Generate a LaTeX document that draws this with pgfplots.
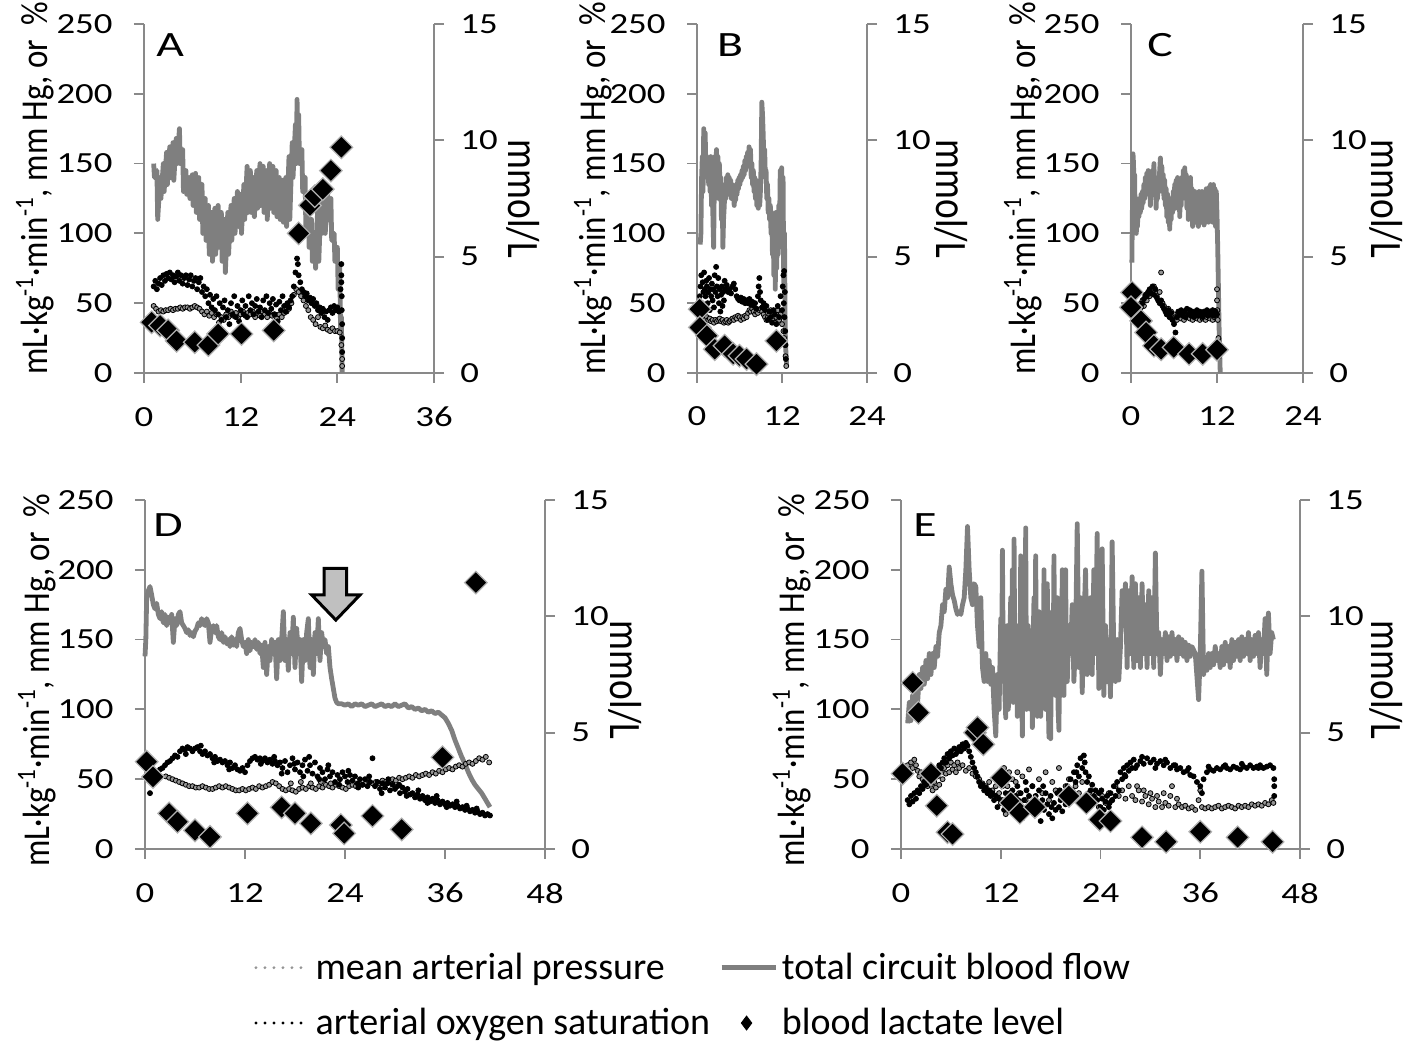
\documentclass[border=0pt]{standalone}
\usepackage{fontspec}
\setmainfont{Carlito}
\usepackage{graphicx}
\usepackage{pgfplots}
\pgfplotsset{compat=1.18}

\definecolor{axgray}{HTML}{898989}
\definecolor{flowgray}{HTML}{7F7F7F}
\definecolor{mapgray}{HTML}{959595}
\definecolor{arrowgray}{HTML}{C0C0C0}

% panels look stretched sideways, so text is widened with xscale
\newcommand{\tfs}{\fontsize{14.6}{17}\selectfont}
\newcommand{\afs}{\fontsize{17.8}{21}\selectfont}
\newcommand{\lfs}{\fontsize{16.5}{19}\selectfont}
\newcommand{\rfs}{\fontsize{18.7}{22}\selectfont}
\newcommand{\lyl}{\scalebox{1}[1.15]{mL·kg\textsuperscript{-1}·min\textsuperscript{-1}, mm Hg, or \ \%}}
\newcommand{\ryl}{\scalebox{1}[1.2]{mmol/L}}

\pgfplotsset{
  base/.style={scale only axis, anchor=south west, clip=false, xmin=0, ymin=0,
    axis line style={axgray, line width=0.9pt},
    tick style={axgray, line width=0.9pt},
    major tick length=5pt, tick align=outside,
    tick label style={font=\tfs, black, xscale=1.26},
    /pgf/number format/assume math mode=true},
  leftax/.style={base, axis x line*=bottom, axis y line*=left, ymax=250, ytick={0,50,...,250},
    xticklabel style={yshift=-8.5pt}, yticklabel style={xshift=-5pt}},
  rightax/.style={base, axis x line=none, axis y line*=right, ymax=15, ytick={0,5,10,15},
    yticklabel style={xshift=3pt}},
  flow/.style={flowgray, line width=2.4pt, line join=round, no markers},
  map/.style={only marks, mark=*, mark size=1.25pt, mark options={draw=none, fill=mapgray}},
  sao/.style={only marks, mark=*, mark size=1.25pt, mark options={draw=none, fill=black}},
  lac/.style={only marks, mark=square*, mark size=4pt,
    mark options={rotate=45, fill=black, draw=gray!60, line width=0.6pt}},
  lacleg/.style={legend image code/.code={\path[draw=none] (0pt,0pt) (27pt,0pt);
    \draw[black, fill=black] plot[only marks, mark=diamond*, mark size=3.5pt] coordinates {(12.5pt,0pt)};}},
}

\begin{document}
\begin{tikzpicture}
\useasboundingbox (0,0) rectangle (706.5pt,521pt);

% ---------------- A ----------------
\begin{axis}[leftax, at={(72pt,334.5pt)}, width=145pt, height=174.5pt, xmax=36, xtick={0,12,24,36}]
\addplot[flow] coordinates {(1.2,150)(1.3,140)(1.6,145)(1.7,110)(2.0,140)(2.1,125)(2.4,150)(2.5,130)(2.8,158)(2.9,135)(3.2,162)(3.3,140)(3.6,165)(3.7,138)(4.0,168)(4.1,150)(4.4,175)(4.5,150)(4.8,160)(4.9,130)(5.2,145)(5.3,128)(5.6,140)(5.7,125)(6.0,142)(6.1,120)(6.4,143)(6.5,115)(6.8,140)(6.9,110)(7.2,135)(7.3,100)(7.6,125)(7.7,95)(8.0,120)(8.1,85)(8.4,115)(8.5,80)(8.8,118)(8.9,85)(9.2,120)(9.3,90)(9.6,115)(9.7,80)(10.0,110)(10.1,72)(10.4,115)(10.5,85)(10.8,120)(10.9,95)(11.2,125)(11.3,100)(11.6,130)(11.7,105)(12.0,128)(12.1,100)(12.4,135)(12.5,110)(12.8,148)(12.9,115)(13.2,145)(13.3,115)(13.6,140)(13.7,112)(14.0,145)(14.1,118)(14.4,150)(14.5,120)(14.8,148)(14.9,115)(15.2,145)(15.3,110)(15.6,150)(15.7,118)(16.0,148)(16.1,115)(16.4,145)(16.5,112)(16.8,140)(16.9,110)(17.2,138)(17.3,108)(17.6,140)(17.7,105)(18.0,155)(18.1,110)(18.4,165)(18.5,140)(18.8,178)(18.9,150)(19.0,196)(19.1,160)(19.2,185)(19.3,150)(19.6,160)(19.7,130)(20.0,140)(20.1,100)(20.4,120)(20.5,90)(20.8,110)(20.9,80)(21.2,100)(21.3,75)(21.6,125)(21.7,80)(22.0,130)(22.1,100)(22.4,128)(22.5,100)(22.8,130)(22.9,110)(23.2,125)(23.3,95)(23.6,100)(23.7,80)(24.0,90)(24.1,60)(24.3,78)(24.4,30)(24.5,40)(24.6,0)};
\addplot[map] coordinates {(1.2,48)(1.5,46)(1.8,44)(2.1,45)(2.4,44)(2.7,45)(3.0,45)(3.3,46)(3.6,45)(3.9,46)(4.2,46)(4.5,47)(4.8,46)(5.1,47)(5.4,47)(5.7,46)(6.0,47)(6.3,48)(6.6,47)(6.9,46)(7.2,44)(7.5,42)(7.8,44)(8.1,41)(8.4,43)(8.7,40)(9.0,42)(9.3,36)(9.6,40)(9.9,38)(10.2,42)(10.5,40)(10.8,44)(11.1,41)(11.4,43)(11.7,40)(12.0,42)(12.3,44)(12.6,41)(12.9,43)(13.2,42)(13.5,44)(13.8,40)(14.1,43)(14.4,41)(14.7,44)(15.0,42)(15.3,40)(15.6,43)(15.9,41)(16.2,42)(16.5,39)(16.8,42)(17.1,40)(17.4,43)(17.7,44)(18.0,46)(18.3,50)(18.6,56)(18.9,60)(19.2,58)(19.5,55)(19.8,52)(20.1,48)(20.4,45)(20.7,40)(21.0,38)(21.3,35)(21.6,40)(21.9,33)(22.2,32)(22.5,34)(22.8,31)(23.1,30)(23.4,32)(23.7,30)(24.0,30)(24.3,29)(24.5,20)(24.6,10)(24.6,5)};
\addplot[sao] coordinates {(1.2,62)(1.4,66)(1.6,60)(1.8,64)(2.0,68)(2.2,63)(2.4,70)(2.6,66)(2.8,71)(3.0,68)(3.2,72)(3.4,67)(3.6,70)(3.8,65)(4.0,69)(4.2,72)(4.4,66)(4.6,70)(4.8,64)(5.0,68)(5.2,70)(5.4,63)(5.6,67)(5.8,70)(6.0,62)(6.2,66)(6.4,68)(6.6,60)(6.8,65)(7.0,68)(7.2,58)(7.4,62)(7.6,55)(7.8,60)(8.0,50)(8.2,56)(8.4,47)(8.6,53)(8.8,45)(9.0,55)(9.2,42)(9.4,50)(9.6,38)(9.8,47)(10.0,52)(10.2,40)(10.4,45)(10.6,35)(10.8,50)(11.0,42)(11.2,55)(11.4,40)(11.6,48)(11.8,37)(12.0,45)(12.2,52)(12.4,42)(12.6,48)(12.8,40)(13.0,55)(13.2,45)(13.4,50)(13.6,42)(13.8,48)(14.0,53)(14.2,44)(14.4,47)(14.6,40)(14.8,52)(15.0,45)(15.2,55)(15.4,43)(15.6,50)(15.8,46)(16.0,53)(16.2,42)(16.4,49)(16.6,37)(16.8,51)(17.0,45)(17.2,55)(17.4,48)(17.6,44)(17.8,50)(18.0,47)(18.2,52)(18.4,55)(18.6,62)(18.8,72)(19.0,82)(19.1,78)(19.2,70)(19.4,65)(19.6,60)(19.8,58)(20.0,55)(20.2,57)(20.4,52)(20.6,54)(20.8,50)(21.0,53)(21.2,48)(21.4,50)(21.6,45)(21.8,47)(22.0,43)(22.2,46)(22.4,40)(22.6,44)(22.8,38)(23.0,45)(23.2,47)(23.4,43)(23.6,48)(23.8,45)(24.0,47)(24.2,44)(24.4,60)(24.5,70)(24.5,78)(24.5,65)(24.55,55)(24.55,45)(24.6,35)(24.6,25)(24.6,15)};
\node[rotate=90, font=\lfs] at (axis description cs:-0.376,0.53) {\lyl};
\node[font=\afs, xscale=1.34] at (axis description cs:0.09,0.94) {A};
\end{axis}
\begin{axis}[rightax, at={(72pt,334.5pt)}, width=145pt, height=174.5pt, xmax=36]
\addplot[lac] coordinates {(0.95,2.18)(2.0,2.04)(3.0,1.83)(4.05,1.38)(6.3,1.32)(8.0,1.2)(9.2,1.68)(12.1,1.68)(16.1,1.83)(19.2,6.0)(20.6,7.2)(21.2,7.6)(22.2,7.9)(23.2,8.7)(24.5,9.7)};
\node[rotate=-90, font=\rfs] at (axis description cs:1.307,0.499) {\ryl};
\end{axis}

% ---------------- B ----------------
\begin{axis}[leftax, at={(348.5pt,334.5pt)}, width=85pt, height=174.5pt, xmax=24, xtick={0,12,24}]
\addplot[flow] coordinates {(0.45,92)(0.55,100)(0.65,140)(0.75,155)(0.85,130)(0.95,175)(1.05,160)(1.15,172)(1.25,148)(1.35,155)(1.45,140)(1.55,150)(1.65,135)(1.75,150)(1.85,130)(1.95,155)(2.05,120)(2.15,150)(2.25,110)(2.35,90)(2.45,140)(2.55,155)(2.65,145)(2.75,160)(2.85,140)(2.95,155)(3.05,125)(3.15,150)(3.25,135)(3.35,140)(3.45,110)(3.55,135)(3.65,90)(3.75,110)(3.85,120)(3.95,135)(4.05,125)(4.15,140)(4.25,130)(4.35,142)(4.45,128)(4.55,140)(4.65,130)(4.75,138)(4.85,125)(4.95,135)(5.05,128)(5.15,130)(5.25,120)(5.35,128)(5.45,124)(5.55,135)(5.65,128)(5.75,138)(5.85,132)(5.95,140)(6.05,135)(6.15,142)(6.25,138)(6.35,145)(6.45,140)(6.55,148)(6.65,142)(6.75,152)(6.85,145)(6.95,155)(7.05,148)(7.15,158)(7.25,150)(7.35,162)(7.45,150)(7.55,160)(7.65,140)(7.75,150)(7.85,135)(7.95,145)(8.05,130)(8.15,140)(8.25,125)(8.35,138)(8.45,120)(8.55,132)(8.65,118)(8.75,128)(8.85,120)(8.95,130)(9.05,150)(9.15,194)(9.25,185)(9.35,170)(9.45,150)(9.55,160)(9.65,140)(9.75,145)(9.85,125)(9.95,135)(10.05,115)(10.15,125)(10.25,110)(10.35,120)(10.45,100)(10.55,115)(10.65,85)(10.75,110)(10.85,70)(10.95,112)(11.05,60)(11.15,115)(11.25,75)(11.35,110)(11.45,85)(11.55,120)(11.65,100)(11.75,145)(11.85,110)(11.95,147)(12.05,90)(12.15,140)(12.25,60)(12.35,100)(12.45,30)(12.55,15)(12.65,5)};
\addplot[map] coordinates {(0.4,45)(0.6,42)(0.8,40)(1.0,41)(1.2,39)(1.4,40)(1.6,38)(1.8,39)(2.0,37)(2.2,38)(2.4,36)(2.6,38)(2.8,37)(3.0,38)(3.2,39)(3.4,37)(3.6,38)(3.8,36)(4.0,37)(4.2,38)(4.4,36)(4.6,37)(4.8,38)(5.0,39)(5.2,38)(5.4,40)(5.6,39)(5.8,41)(6.0,40)(6.2,38)(6.4,40)(6.6,39)(6.8,41)(7.0,40)(7.2,43)(7.4,45)(7.6,44)(7.8,46)(8.0,44)(8.2,42)(8.4,44)(8.6,43)(8.8,45)(9.0,46)(9.2,44)(9.4,42)(9.6,40)(9.8,38)(10.0,40)(10.2,42)(10.4,45)(10.6,38)(10.8,42)(11.0,36)(11.2,40)(11.4,45)(11.6,38)(11.8,42)(12.0,35)(12.2,30)(12.3,25)(12.4,20)(12.5,12)(12.6,5)};
\addplot[sao] coordinates {(0.4,55)(0.5,62)(0.6,70)(0.7,50)(0.8,65)(0.9,58)(1.0,72)(1.1,60)(1.2,55)(1.3,66)(1.4,62)(1.5,50)(1.6,58)(1.7,68)(1.8,45)(1.9,60)(2.0,55)(2.1,64)(2.2,52)(2.3,60)(2.4,47)(2.5,70)(2.6,58)(2.7,76)(2.8,62)(2.9,55)(3.0,68)(3.1,50)(3.2,60)(3.3,44)(3.4,56)(3.5,62)(3.6,48)(3.7,58)(3.8,52)(3.9,66)(4.0,60)(4.2,63)(4.4,58)(4.6,60)(4.8,57)(5.0,62)(5.2,64)(5.4,60)(5.6,55)(5.8,53)(6.0,52)(6.2,54)(6.4,51)(6.6,53)(6.8,50)(7.0,52)(7.2,50)(7.4,53)(7.6,49)(7.8,51)(8.0,48)(8.2,50)(8.4,46)(8.6,55)(8.7,62)(8.8,68)(8.9,58)(9.0,52)(9.2,47)(9.4,50)(9.6,45)(9.8,48)(10.0,38)(10.2,44)(10.4,40)(10.6,36)(10.8,45)(11.0,42)(11.2,35)(11.4,48)(11.6,40)(11.8,55)(12.0,45)(12.1,62)(12.2,70)(12.25,50)(12.3,73)(12.35,40)(12.4,58)(12.45,30)(12.5,20)(12.55,10)};
\node[rotate=90, font=\lfs] at (axis description cs:-0.612,0.53) {\lyl};
\node[font=\afs, xscale=1.34] at (axis description cs:0.194,0.94) {B};
\end{axis}
\begin{axis}[rightax, at={(348.5pt,334.5pt)}, width=85pt, height=174.5pt, xmax=24]
\addplot[lac] coordinates {(0.38,2.74)(0.4,1.96)(1.4,1.6)(2.5,1.02)(3.9,1.17)(5.1,0.82)(6.0,0.74)(7.0,0.6)(8.4,0.38)(11.2,1.38)};
\node[rotate=-90, font=\rfs] at (axis description cs:1.494,0.499) {\ryl};
\end{axis}

% ---------------- C ----------------
\begin{axis}[leftax, at={(565.5pt,334.5pt)}, width=86pt, height=174.5pt, xmax=24, xtick={0,12,24}]
\addplot[flow] coordinates {(0.12,79)(0.2,120)(0.28,157)(0.35,150)(0.42,130)(0.5,142)(0.58,110)(0.66,125)(0.74,100)(0.82,118)(0.9,105)(1.0,120)(1.1,112)(1.2,125)(1.3,115)(1.4,128)(1.5,118)(1.6,130)(1.7,122)(1.8,135)(1.9,125)(2.0,140)(2.1,130)(2.2,143)(2.3,135)(2.4,145)(2.5,128)(2.6,140)(2.7,120)(2.8,138)(2.9,128)(3.0,145)(3.1,135)(3.2,150)(3.3,130)(3.4,140)(3.5,118)(3.6,132)(3.7,125)(3.8,140)(3.9,130)(4.0,145)(4.1,154)(4.2,140)(4.3,148)(4.4,130)(4.5,142)(4.6,125)(4.7,138)(4.8,120)(4.9,132)(5.0,112)(5.1,128)(5.2,108)(5.3,125)(5.4,103)(5.5,120)(5.6,110)(5.7,125)(5.8,115)(5.9,130)(6.0,120)(6.1,135)(6.2,118)(6.3,138)(6.4,125)(6.5,140)(6.6,122)(6.7,138)(6.8,112)(6.9,135)(7.0,120)(7.1,140)(7.2,125)(7.3,145)(7.4,130)(7.5,147)(7.6,128)(7.7,142)(7.8,118)(7.9,138)(8.0,110)(8.1,135)(8.2,118)(8.3,140)(8.4,110)(8.5,132)(8.6,105)(8.7,128)(8.8,112)(8.9,130)(9.0,108)(9.1,128)(9.2,110)(9.3,125)(9.4,105)(9.5,130)(9.6,112)(9.7,128)(9.8,108)(9.9,130)(10.0,112)(10.1,128)(10.2,106)(10.3,130)(10.4,110)(10.5,132)(10.6,112)(10.7,130)(10.8,108)(10.9,133)(11.0,112)(11.1,135)(11.2,110)(11.3,134)(11.4,108)(11.5,135)(11.6,110)(11.7,132)(11.8,105)(11.9,130)(12.0,113)(12.1,90)(12.2,60)(12.3,30)(12.4,10)(12.45,0)};
\addplot[map] coordinates {(0.2,50)(0.4,46)(0.6,48)(0.8,44)(1.0,47)(1.2,45)(1.4,50)(1.6,52)(1.8,48)(2.0,55)(2.2,52)(2.4,58)(2.6,55)(2.8,60)(3.0,57)(3.2,62)(3.4,58)(3.6,55)(3.8,52)(4.0,58)(4.2,72)(4.4,50)(4.6,48)(4.8,45)(5.0,42)(5.2,46)(5.4,40)(5.6,44)(5.8,38)(6.0,42)(6.2,40)(6.4,38)(6.6,42)(6.8,40)(7.0,39)(7.2,42)(7.4,38)(7.6,41)(7.8,40)(8.0,43)(8.2,39)(8.4,41)(8.6,38)(8.8,42)(9.0,40)(9.2,39)(9.4,42)(9.6,38)(9.8,41)(10.0,39)(10.2,42)(10.4,38)(10.6,40)(10.8,41)(11.0,39)(11.2,42)(11.4,38)(11.6,40)(11.8,41)(12.0,60)(12.0,52)(12.05,45)(12.1,38)(12.2,25)(12.3,12)};
\addplot[sao] coordinates {(0.2,45)(0.4,48)(0.6,44)(0.8,46)(1.0,45)(1.2,48)(1.4,47)(1.6,50)(1.8,53)(2.0,56)(2.2,55)(2.4,58)(2.6,60)(2.8,57)(3.0,62)(3.2,56)(3.4,60)(3.6,54)(3.8,52)(4.0,50)(4.2,52)(4.4,48)(4.6,46)(4.8,44)(5.0,42)(5.2,45)(5.4,40)(5.6,43)(5.8,38)(6.0,35)(6.2,29)(6.4,40)(6.6,44)(6.8,42)(7.0,45)(7.2,41)(7.4,44)(7.6,40)(7.8,46)(8.0,42)(8.2,45)(8.4,41)(8.6,44)(8.8,40)(9.0,43)(9.2,45)(9.4,41)(9.6,44)(9.8,42)(10.0,40)(10.2,44)(10.4,42)(10.6,45)(10.8,41)(11.0,44)(11.2,42)(11.4,45)(11.6,41)(11.8,44)(12.0,42)};
\node[rotate=90, font=\lfs] at (axis description cs:-0.627,0.53) {\lyl};
\node[font=\afs, xscale=1.34] at (axis description cs:0.169,0.94) {C};
\end{axis}
\begin{axis}[rightax, at={(565.5pt,334.5pt)}, width=86pt, height=174.5pt, xmax=24]
\addplot[lac] coordinates {(0.14,3.46)(0.0,2.82)(1.4,2.24)(2.1,1.74)(3.2,1.17)(4.2,1.02)(5.95,1.1)(8.1,0.82)(10.0,0.82)(12.0,1.0)};
\node[rotate=-90, font=\rfs] at (axis description cs:1.482,0.499) {\ryl};
\end{axis}

% ---------------- D ----------------
\begin{axis}[leftax, at={(72.5pt,96.5pt)}, width=200pt, height=174.5pt, xmax=48, xtick={0,12,...,48}]
\addplot[flow] coordinates {(0.0,138)(0.1,150)(0.2,180)(0.4,185)(0.6,188)(0.8,182)(1.0,175)(1.2,172)(1.4,176)(1.6,168)(1.8,165)(2.0,170)(2.2,162)(2.4,168)(2.6,160)(2.8,166)(3.0,162)(3.2,168)(3.4,148)(3.6,165)(3.8,160)(4.0,168)(4.2,170)(4.4,162)(4.6,160)(4.8,158)(5.0,155)(5.2,157)(5.4,153)(5.6,155)(5.8,152)(6.0,156)(6.2,158)(6.4,162)(6.6,160)(6.8,165)(7.0,162)(7.2,160)(7.4,165)(7.6,162)(7.8,148)(8.0,158)(8.2,160)(8.4,155)(8.6,160)(8.8,152)(9.0,150)(9.2,155)(9.4,148)(9.6,152)(9.8,147)(10.0,150)(10.2,145)(10.4,152)(10.6,146)(10.8,150)(11.0,145)(11.2,155)(11.4,158)(11.6,150)(11.8,145)(12.0,148)(12.2,140)(12.4,150)(12.6,142)(12.8,148)(13.0,145)(13.2,150)(13.4,143)(13.6,148)(13.8,140)(14.0,146)(14.2,130)(14.4,148)(14.6,125)(14.8,145)(15.0,135)(15.2,150)(15.4,140)(15.6,148)(15.8,122)(16.0,150)(16.2,135)(16.4,150)(16.6,170)(16.8,135)(17.0,150)(17.2,128)(17.4,155)(17.6,140)(17.8,166)(18.0,130)(18.2,158)(18.4,140)(18.6,150)(18.8,120)(19.0,150)(19.2,135)(19.4,155)(19.6,165)(19.8,130)(20.0,150)(20.2,125)(20.4,155)(20.6,140)(20.8,165)(21.0,135)(21.2,155)(21.4,145)(21.6,150)(21.8,140)(22.0,145)(22.2,130)(22.4,122)(22.6,115)(22.8,108)(23.0,105)(23.2,104)(23.6,104)(24.0,103)(24.4,104)(24.8,102)(25.2,104)(25.6,103)(26.0,104)(26.4,102)(26.8,103)(27.2,104)(27.6,102)(28.0,103)(28.4,104)(28.8,102)(29.2,103)(29.6,102)(30.0,104)(30.4,102)(30.8,103)(31.2,104)(31.6,101)(32.0,102)(32.4,100)(32.8,101)(33.2,99)(33.6,100)(34.0,98)(34.4,99)(34.8,97)(35.2,98)(35.6,96)(36.0,94)(36.4,90)(36.8,85)(37.2,78)(37.6,72)(38.0,66)(38.4,61)(38.8,55)(39.2,50)(39.6,46)(40.0,43)(40.4,40)(40.8,36)(41.2,32)(41.4,30)};
\addplot[map] coordinates {(2.5,52)(2.9,51)(3.3,50)(3.7,49)(4.1,48)(4.5,47)(4.9,46)(5.3,45)(5.7,45)(6.1,44)(6.5,44)(6.9,45)(7.3,44)(7.7,43)(8.1,43)(8.5,44)(8.9,45)(9.3,44)(9.7,45)(10.1,44)(10.5,43)(10.9,42)(11.3,42)(11.7,43)(12.1,42)(12.5,43)(12.9,44)(13.3,43)(13.7,45)(14.1,44)(14.5,45)(14.9,46)(15.3,48)(15.7,47)(16.1,45)(16.5,43)(16.9,42)(17.3,43)(17.7,42)(18.1,41)(18.5,43)(18.9,44)(19.3,43)(19.7,45)(20.1,44)(20.5,43)(20.9,45)(21.3,44)(21.7,46)(22.1,45)(22.5,44)(22.9,46)(23.3,45)(23.7,44)(24.1,43)(24.5,45)(24.9,46)(25.3,45)(25.7,47)(26.1,46)(26.5,47)(26.9,48)(27.3,47)(27.7,48)(28.1,47)(28.5,49)(28.9,48)(29.3,49)(29.7,50)(30.1,49)(30.5,51)(30.9,50)(31.3,51)(31.7,52)(32.1,51)(32.5,53)(32.9,52)(33.3,53)(33.7,54)(34.1,53)(34.5,55)(34.9,54)(35.3,56)(35.7,55)(36.1,57)(36.5,58)(36.9,57)(37.3,59)(37.7,60)(38.1,59)(38.5,61)(38.9,62)(39.3,61)(39.7,63)(40.1,65)(40.5,64)(40.9,66)(41.3,62)(17.5,47)(18.7,48)(19.9,47)(21.1,48)(22.3,47)};
\addplot[sao] coordinates {(0.6,40)(0.9,48)(1.2,52)(1.5,55)(1.8,57)(2.1,58)(2.4,60)(2.7,62)(3.0,63)(3.3,65)(3.6,67)(3.9,66)(4.2,70)(4.5,72)(4.8,71)(5.1,73)(5.4,72)(5.7,70)(6.0,72)(6.3,73)(6.6,70)(6.9,68)(7.2,70)(7.5,67)(7.8,68)(8.1,65)(8.4,66)(8.7,63)(9.0,64)(9.3,62)(9.6,63)(9.9,60)(10.2,62)(10.5,58)(10.8,60)(11.1,57)(11.4,56)(11.7,58)(12.0,55)(12.3,60)(12.6,63)(12.9,65)(13.2,66)(13.5,64)(13.8,65)(14.1,63)(14.4,65)(14.7,62)(15.0,64)(15.3,61)(15.6,63)(15.9,60)(16.2,62)(16.5,58)(16.8,63)(17.1,55)(17.4,60)(17.7,65)(18.0,57)(18.3,62)(18.6,55)(18.9,60)(19.2,64)(19.5,56)(19.8,60)(20.1,54)(20.4,62)(20.7,52)(21.0,58)(21.3,55)(21.6,50)(21.9,57)(22.2,52)(22.5,55)(22.8,48)(23.1,53)(23.4,50)(23.7,55)(24.0,52)(24.3,48)(24.6,53)(24.9,49)(25.2,52)(25.5,47)(25.8,50)(26.1,46)(26.4,50)(26.7,45)(27.0,48)(27.3,65)(27.6,45)(27.9,48)(28.2,43)(28.5,47)(28.8,44)(29.1,47)(29.4,42)(29.7,46)(30.0,43)(30.3,45)(30.6,40)(30.9,44)(31.2,41)(31.5,43)(31.8,39)(32.1,40)(32.4,37)(32.7,39)(33.0,36)(33.3,38)(33.6,35)(33.9,37)(34.2,34)(34.5,36)(34.8,33)(35.1,35)(35.4,32)(35.7,34)(36.0,32)(36.3,33)(36.6,31)(36.9,32)(37.2,30)(37.5,31)(37.8,29)(38.1,30)(38.4,28)(38.7,29)(39.0,27)(39.3,28)(39.6,26)(39.9,27)(40.2,25)(40.5,26)(40.8,24)(41.1,25)(41.4,24)(4.9,68)(6.7,74)(8.3,62)(10.1,57)(13.9,61)(15.5,66)(16.4,54)(17.9,61)(19.0,52)(19.7,66)(20.9,50)(22.0,60)(23.3,46)(24.4,56)(25.6,44)(26.9,52)(28.4,40)(29.2,50)(30.5,46)(31.4,38)(32.8,42)(33.9,33)(35.0,38)(36.2,30)(37.4,34)(38.6,31)(39.8,29)};
\draw[fill=arrowgray, line width=1.5pt, line join=miter] (axis cs:21.5,201) -- (axis cs:24.2,201) -- (axis cs:24.2,182) -- (axis cs:25.8,182) -- (axis cs:22.9,164) -- (axis cs:20.0,182) -- (axis cs:21.5,182) -- cycle;
\node[rotate=90, font=\lfs] at (axis description cs:-0.27,0.484) {\lyl};
\node[font=\afs, xscale=1.34] at (axis description cs:0.0575,0.928) {D};
\end{axis}
\begin{axis}[rightax, at={(72.5pt,96.5pt)}, width=200pt, height=174.5pt, xmax=48]
\addplot[lac] coordinates {(0.2,3.75)(0.96,3.1)(2.9,1.53)(3.9,1.17)(6.0,0.8)(7.8,0.52)(12.3,1.53)(16.4,1.79)(18.0,1.53)(19.9,1.1)(23.5,1.03)(23.9,0.67)(27.3,1.42)(30.8,0.84)(35.7,3.94)(39.7,11.45)};
\node[rotate=-90, font=\rfs] at (axis description cs:1.2,0.484) {\ryl};
\end{axis}

% ---------------- E ----------------
\begin{axis}[leftax, at={(450.5pt,96.5pt)}, width=199.5pt, height=174.5pt, xmax=48, xtick={0,12,...,48}]
\addplot[flow] coordinates {(0.8,90)(1.0,105)(1.2,92)(1.4,110)(1.6,100)(1.8,115)(2.0,105)(2.2,125)(2.4,115)(2.6,130)(2.8,118)(3.0,135)(3.2,122)(3.4,140)(3.6,125)(3.8,140)(4.0,130)(4.2,145)(4.4,138)(4.6,155)(4.8,160)(5.0,175)(5.2,170)(5.4,186)(5.6,180)(5.8,202)(6.0,190)(6.2,182)(6.4,178)(6.6,172)(6.8,168)(7.0,170)(7.2,168)(7.4,175)(7.6,180)(7.8,200)(8.0,231)(8.2,200)(8.4,180)(8.6,175)(8.8,190)(9.0,188)(9.2,160)(9.4,145)(9.6,180)(9.8,130)(10.0,120)(10.2,140)(10.4,120)(10.6,135)(10.8,118)(11.0,130)(11.2,100)(11.4,81)(11.6,125)(11.8,100)(12.0,165)(12.1,120)(12.2,214)(12.3,130)(12.4,150)(12.5,110)(12.6,94)(12.7,140)(12.8,160)(12.9,100)(13.0,110)(13.1,150)(13.2,180)(13.3,120)(13.4,200)(13.5,105)(13.6,222)(13.7,120)(13.8,130)(13.9,160)(14.0,95)(14.1,140)(14.2,160)(14.3,100)(14.4,210)(14.5,120)(14.6,81)(14.7,150)(14.8,200)(14.9,110)(15.0,230)(15.1,100)(15.2,140)(15.3,160)(15.4,130)(15.5,150)(15.6,100)(15.7,140)(15.8,87)(15.9,150)(16.0,180)(16.1,120)(16.2,210)(16.3,130)(16.4,95)(16.5,150)(16.6,170)(16.7,110)(16.8,95)(16.9,160)(17.0,150)(17.1,105)(17.2,200)(17.3,120)(17.4,100)(17.5,160)(17.6,190)(17.7,110)(17.8,80)(17.9,150)(18.0,79)(18.1,140)(18.2,170)(18.3,120)(18.4,210)(18.5,130)(18.6,110)(18.7,160)(18.8,180)(18.9,100)(19.0,85)(19.1,150)(19.2,160)(19.3,110)(19.4,200)(19.5,130)(19.6,110)(19.7,150)(19.8,200)(19.9,130)(20.0,120)(20.2,160)(20.4,140)(20.6,175)(20.8,120)(21.0,150)(21.2,233)(21.4,130)(21.6,180)(21.8,112)(22.0,160)(22.2,200)(22.4,125)(22.6,150)(22.8,180)(23.0,125)(23.2,200)(23.4,140)(23.6,226)(23.8,115)(24.0,150)(24.2,215)(24.4,110)(24.6,160)(24.8,120)(25.0,150)(25.2,109)(25.4,220)(25.6,140)(25.8,120)(26.0,150)(26.2,121)(26.4,145)(26.6,185)(26.8,160)(27.0,190)(27.2,130)(27.4,185)(27.6,140)(27.8,195)(28.0,130)(28.2,190)(28.4,135)(28.6,180)(28.8,130)(29.0,190)(29.2,140)(29.4,175)(29.6,130)(29.8,185)(30.0,140)(30.2,180)(30.4,130)(30.6,212)(30.8,140)(31.0,155)(31.2,125)(31.4,150)(31.6,140)(31.8,155)(32.0,135)(32.2,152)(32.4,138)(32.6,155)(32.8,140)(33.0,150)(33.2,135)(33.4,152)(33.6,140)(33.8,150)(34.0,138)(34.2,148)(34.4,135)(34.6,146)(34.8,138)(35.0,145)(35.4,140)(35.8,107)(36.0,140)(36.2,199)(36.4,125)(36.6,135)(36.8,128)(37.0,140)(37.2,130)(37.4,140)(37.6,132)(37.8,145)(38.0,135)(38.2,140)(38.4,130)(38.6,145)(38.8,132)(39.0,148)(39.2,135)(39.4,145)(39.6,130)(39.8,150)(40.0,135)(40.2,148)(40.4,138)(40.6,150)(40.8,135)(41.0,152)(41.2,138)(41.4,150)(41.6,140)(41.8,155)(42.0,135)(42.2,150)(42.4,138)(42.6,153)(42.8,140)(43.0,155)(43.2,130)(43.4,150)(43.6,140)(43.8,165)(44.0,125)(44.2,169)(44.4,140)(44.6,155)(44.8,150)};
\addplot[map] coordinates {(0.8,60)(1.0,55)(1.2,62)(1.4,58)(1.6,64)(1.8,60)(2.0,56)(2.2,52)(2.4,55)(2.6,50)(2.8,48)(3.0,52)(3.2,45)(3.4,50)(3.6,46)(3.8,42)(4.0,48)(4.2,44)(4.4,52)(4.6,46)(4.8,55)(5.0,50)(5.2,58)(5.4,54)(5.6,60)(5.8,55)(6.0,62)(6.2,57)(6.4,60)(6.6,55)(6.8,62)(7.0,58)(7.4,60)(7.8,56)(8.2,58)(8.6,54)(9.0,52)(9.4,50)(9.8,47)(10.2,45)(10.6,48)(11.0,42)(11.4,45)(11.8,40)(12.2,35)(12.4,58)(12.6,25)(12.8,45)(13.0,55)(13.2,38)(13.4,50)(13.6,30)(13.8,48)(14.0,55)(14.2,40)(14.6,52)(15.0,35)(15.4,57)(15.8,45)(16.2,30)(16.6,50)(17.0,40)(17.4,55)(17.8,35)(18.2,48)(18.6,42)(19.0,58)(19.4,38)(19.8,45)(20.2,50)(20.6,35)(21.0,45)(21.4,40)(21.8,48)(22.2,35)(22.6,40)(23.0,32)(23.4,36)(23.8,30)(24.2,38)(24.6,33)(25.0,40)(25.4,35)(25.8,45)(26.2,38)(26.6,42)(27.0,36)(27.4,45)(27.8,38)(28.2,35)(28.4,45)(28.6,42)(29.0,34)(29.2,42)(29.4,38)(29.8,32)(30.0,40)(30.2,36)(30.6,30)(30.8,38)(31.0,34)(31.4,30)(31.6,40)(31.8,33)(32.2,31)(32.4,38)(32.6,45)(33.0,30)(33.2,36)(33.4,32)(33.8,30)(34.2,31)(34.6,29)(35.0,30)(35.4,28)(35.8,35)(36.0,42)(36.2,30)(36.6,29)(37.0,30)(37.4,29)(37.8,30)(38.2,31)(38.6,29)(39.0,30)(39.4,31)(39.8,30)(40.2,29)(40.6,31)(41.0,30)(41.4,31)(41.8,30)(42.2,32)(42.6,31)(43.0,32)(43.4,31)(43.8,33)(44.2,32)(44.6,35)(44.8,33)};
\addplot[sao] coordinates {(0.8,35)(1.0,32)(1.2,38)(1.4,34)(1.6,40)(1.8,36)(2.0,42)(2.2,40)(2.4,45)(2.6,43)(2.8,48)(3.0,46)(3.2,50)(3.4,52)(3.6,50)(3.8,55)(4.0,53)(4.2,57)(4.4,55)(4.6,60)(4.8,58)(5.0,62)(5.2,65)(5.4,62)(5.6,68)(5.8,65)(6.0,70)(6.2,67)(6.4,72)(6.6,68)(6.8,70)(7.0,73)(7.2,70)(7.4,75)(7.6,72)(7.8,76)(8.0,74)(8.2,70)(8.4,66)(8.6,62)(8.8,58)(9.0,55)(9.2,52)(9.4,48)(9.6,45)(9.8,46)(10.0,42)(10.2,44)(10.4,40)(10.6,42)(10.8,38)(11.0,40)(11.2,35)(11.4,38)(11.6,30)(11.8,36)(12.0,33)(12.2,45)(12.4,28)(12.6,40)(12.8,35)(13.0,50)(13.2,30)(13.4,42)(13.6,25)(13.8,38)(14.0,45)(14.2,30)(14.4,40)(14.6,22)(14.8,35)(15.0,48)(15.2,28)(15.4,38)(15.6,32)(15.8,45)(16.0,25)(16.2,38)(16.4,30)(16.6,42)(16.8,20)(17.0,35)(17.2,28)(17.4,40)(17.6,32)(17.8,25)(18.0,38)(18.2,22)(18.4,33)(18.6,28)(18.8,40)(19.0,30)(19.2,35)(19.4,27)(19.6,38)(19.8,32)(20.0,45)(20.2,36)(20.4,50)(20.6,42)(20.8,55)(21.0,48)(21.2,60)(21.4,52)(21.6,65)(21.8,58)(22.0,67)(22.2,55)(22.4,48)(22.6,52)(22.8,42)(23.0,46)(23.2,38)(23.4,42)(23.6,35)(23.8,40)(24.0,30)(24.2,36)(24.4,28)(24.6,34)(24.8,38)(25.0,30)(25.2,40)(25.4,35)(25.6,45)(25.8,38)(26.0,48)(26.2,42)(26.4,55)(26.6,50)(26.8,58)(27.0,52)(27.2,60)(27.4,56)(27.6,62)(27.8,58)(28.0,64)(28.4,60)(28.8,63)(29.2,61)(29.6,65)(30.0,62)(30.4,64)(30.8,61)(31.2,63)(31.6,60)(32.0,62)(32.4,58)(32.8,60)(33.2,57)(33.6,58)(34.0,55)(34.4,56)(34.8,53)(35.2,52)(35.6,48)(36.0,45)(36.2,40)(36.4,50)(36.8,55)(37.2,57)(37.6,56)(38.0,58)(38.4,57)(38.8,59)(39.2,58)(39.6,57)(40.0,59)(40.4,58)(40.8,57)(41.2,59)(41.6,58)(42.0,60)(42.4,58)(42.8,59)(43.2,60)(43.6,58)(44.0,59)(44.4,60)(44.8,58)(44.9,50)(44.9,45)(44.9,38)(13.1,40)(14.1,35)(15.1,42)(16.1,33)(17.1,45)(18.1,30)(19.1,42)(20.1,38)(21.1,55)(22.1,62)(22.9,36)(24.1,42)(25.1,33)(26.9,53)(28.2,58)(29.0,66)(30.6,58)(31.8,64)(33.0,60)(34.6,58)(37.0,59)(39.0,60)(41.0,61)(43.0,58)};
\node[rotate=90, font=\lfs] at (axis description cs:-0.2735,0.484) {\lyl};
\node[font=\afs, xscale=1.34] at (axis description cs:0.06,0.928) {E};
\end{axis}
\begin{axis}[rightax, at={(450.5pt,96.5pt)}, width=199.5pt, height=174.5pt, xmax=48]
\addplot[lac] coordinates {(0.19,3.24)(1.4,7.14)(2.1,5.86)(3.6,3.24)(4.3,1.86)(5.6,0.72)(6.2,0.64)(8.9,5.0)(9.2,5.22)(9.9,4.5)(12.1,3.06)(13.2,1.98)(14.3,1.56)(16.1,1.8)(20.2,2.28)(22.3,1.98)(23.9,1.26)(25.2,1.2)(29.0,0.5)(31.9,0.31)(36.0,0.74)(40.5,0.5)(44.7,0.31)};
\node[rotate=-90, font=\rfs] at (axis description cs:1.2155,0.484) {\ryl};
\end{axis}

% ---------------- legend ----------------
\begin{axis}[at={(0pt,0pt)}, anchor=south west, scale only axis, width=706.5pt, height=521pt,
  hide axis, xmin=0, xmax=1, ymin=0, ymax=1,
  legend columns=2,
  legend cell align=left,
  legend image code/.code={\draw[#1] (0pt,0pt) -- (27pt,0pt);},
  legend style={at={(0.1755,0.0935)}, anchor=north west, draw=none, fill=none,
    font=\fontsize{19}{23}\selectfont, row sep=9pt,
    /tikz/every even column/.append style={column sep=2.5pt}}]
\addlegendimage{mapgray, line width=1.6pt, line cap=round, dash pattern=on 0pt off 4.5pt}
\addlegendentry{mean arterial pressure}
\addlegendimage{flowgray, line width=2.4pt}
\addlegendentry{total circuit blood flow}
\addlegendimage{black, line width=1.6pt, line cap=round, dash pattern=on 0pt off 4.5pt}
\addlegendentry{arterial oxygen saturation}
\addlegendimage{lacleg}
\addlegendentry{blood lactate level}
\end{axis}
\end{tikzpicture}
\end{document}
